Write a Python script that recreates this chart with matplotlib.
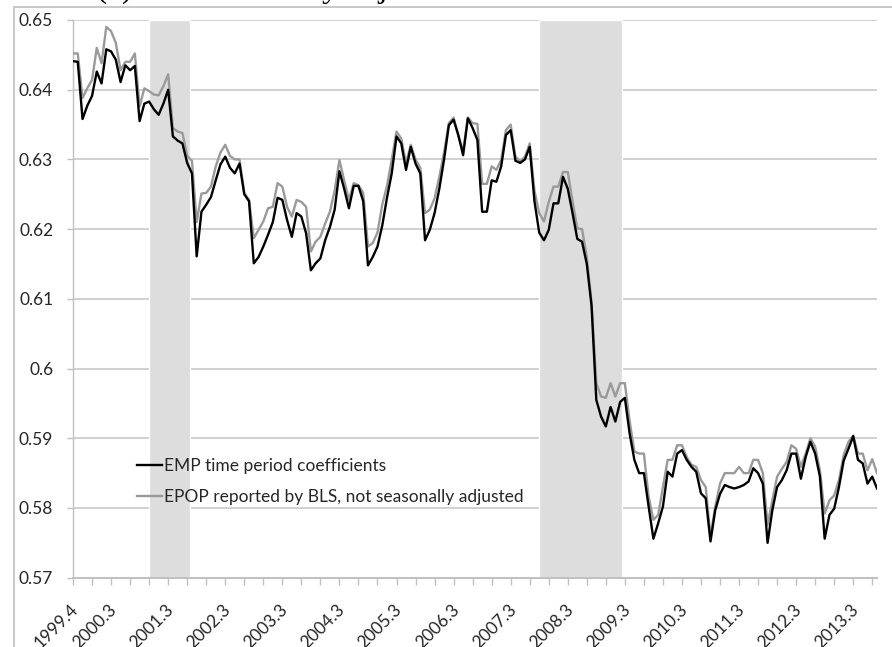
import numpy as np
import pandas as pd
import matplotlib
matplotlib.use("Agg")
import matplotlib.pyplot as plt
from matplotlib.lines import Line2D
from matplotlib.transforms import ScaledTranslation

# ---------------- data ----------------
months = pd.period_range("1999-11", "2013-12", freq="M")

emp = [
    0.6441, 0.6440,
    0.6358, 0.6377, 0.6391, 0.6426, 0.6409, 0.6458, 0.6455, 0.6443, 0.6411, 0.6435, 0.6428, 0.6434,
    0.6355, 0.6380, 0.6383, 0.6372, 0.6364, 0.6380, 0.6400, 0.6333, 0.6327, 0.6323, 0.6295, 0.6280,
    0.6161, 0.6225, 0.6235, 0.6246, 0.6270, 0.6293, 0.6304, 0.6288, 0.6280, 0.6294, 0.6250, 0.6240,
    0.6151, 0.6160, 0.6175, 0.6192, 0.6210, 0.6245, 0.6242, 0.6213, 0.6189, 0.6223, 0.6218, 0.6194,
    0.6141, 0.6151, 0.6158, 0.6184, 0.6203, 0.6228, 0.6283, 0.6258, 0.6230, 0.6262, 0.6262, 0.6240,
    0.6148, 0.6160, 0.6175, 0.6205, 0.6245, 0.6280, 0.6333, 0.6323, 0.6285, 0.6318, 0.6294, 0.6280,
    0.6184, 0.6199, 0.6223, 0.6258, 0.6300, 0.6349, 0.6357, 0.6335, 0.6306, 0.6359, 0.6345, 0.6328,
    0.6225, 0.6225, 0.6270, 0.6268, 0.6290, 0.6335, 0.6342, 0.6298, 0.6295, 0.6300, 0.6318, 0.6240,
    0.6195, 0.6184, 0.6199, 0.6237, 0.6237, 0.6275, 0.6258, 0.6223, 0.6186, 0.6182, 0.6150, 0.6090,
    0.5955, 0.5931, 0.5917, 0.5945, 0.5924, 0.5952, 0.5958, 0.5907, 0.5869, 0.5850, 0.5850, 0.5802,
    0.5756, 0.5778, 0.5802, 0.5852, 0.5845, 0.5878, 0.5883, 0.5869, 0.5859, 0.5852, 0.5821, 0.5814,
    0.5752, 0.5797, 0.5820, 0.5833, 0.5830, 0.5828, 0.5830, 0.5833, 0.5838, 0.5857, 0.5850, 0.5835,
    0.5750, 0.5797, 0.5830, 0.5840, 0.5854, 0.5878, 0.5878, 0.5842, 0.5873, 0.5895, 0.5878, 0.5845,
    0.5756, 0.5790, 0.5799, 0.5830, 0.5868, 0.5885, 0.5903, 0.5869, 0.5864, 0.5835, 0.5845, 0.5828,
]

epop = [
    0.6452, 0.6452,
    0.6388, 0.6402, 0.6414, 0.6460, 0.6438, 0.6490, 0.6484, 0.6467, 0.6428, 0.6440, 0.6440, 0.6452,
    0.6376, 0.6402, 0.6398, 0.6393, 0.6392, 0.6405, 0.6422, 0.6345, 0.6340, 0.6338, 0.6305, 0.6298,
    0.6210, 0.6251, 0.6252, 0.6261, 0.6290, 0.6310, 0.6321, 0.6305, 0.6300, 0.6300, 0.6252, 0.6242,
    0.6187, 0.6199, 0.6211, 0.6230, 0.6232, 0.6266, 0.6261, 0.6232, 0.6218, 0.6242, 0.6239, 0.6232,
    0.6168, 0.6182, 0.6189, 0.6208, 0.6225, 0.6255, 0.6299, 0.6270, 0.6242, 0.6266, 0.6263, 0.6252,
    0.6175, 0.6180, 0.6195, 0.6235, 0.6262, 0.6300, 0.6340, 0.6330, 0.6294, 0.6321, 0.6300, 0.6288,
    0.6223, 0.6228, 0.6244, 0.6275, 0.6310, 0.6352, 0.6360, 0.6333, 0.6312, 0.6360, 0.6352, 0.6351,
    0.6265, 0.6265, 0.6290, 0.6285, 0.6299, 0.6342, 0.6350, 0.6304, 0.6297, 0.6304, 0.6323, 0.6255,
    0.6223, 0.6211, 0.6239, 0.6261, 0.6261, 0.6282, 0.6282, 0.6240, 0.6201, 0.6200, 0.6160, 0.6095,
    0.5979, 0.5960, 0.5958, 0.5979, 0.5960, 0.5979, 0.5979, 0.5925, 0.5881, 0.5878, 0.5878, 0.5816,
    0.5783, 0.5790, 0.5830, 0.5869, 0.5869, 0.5890, 0.5890, 0.5873, 0.5862, 0.5859, 0.5840, 0.5830,
    0.5759, 0.5802, 0.5835, 0.5850, 0.5850, 0.5850, 0.5859, 0.5850, 0.5850, 0.5869, 0.5869, 0.5850,
    0.5776, 0.5811, 0.5845, 0.5856, 0.5866, 0.5890, 0.5885, 0.5859, 0.5878, 0.5900, 0.5888, 0.5854,
    0.5792, 0.5811, 0.5818, 0.5840, 0.5876, 0.5895, 0.5904, 0.5878, 0.5878, 0.5854, 0.5870, 0.5850,
]

series_names = ["EMP time period coefficients",
                "EPOP reported by BLS, not seasonally adjusted"]
recessions = [("2001-03", "2001-11"), ("2008-01", "2009-06")]
yticks = [0.57, 0.58, 0.59, 0.60, 0.61, 0.62, 0.63, 0.64, 0.65]
ytick_labels = ["0.57", "0.58", "0.59", "0.6", "0.61", "0.62", "0.63", "0.64", "0.65"]
title_text = "(a) Not seasonally adjusted"

# ---------------- figure ----------------
plt.rcParams["font.family"] = ["Lato", "DejaVu Sans"]
W, H = 892, 647
fig = plt.figure(figsize=(W / 100, H / 100), dpi=100)
fig.patch.set_facecolor("white")

L, R, T, B = 73, 877, 20, 577.7
ax = fig.add_axes([L / W, 1 - B / H, (R - L) / W, (B - T) / H])

x = np.arange(len(months))
pos = {str(p): i for i, p in enumerate(months)}

ax.set_xlim(0, len(months) - 1)
ax.set_ylim(0.57, 0.65)

# gridlines
ax.set_yticks(yticks)
ax.set_yticklabels(ytick_labels)
ax.yaxis.grid(True, color="#d0d0d0", lw=1.4, zorder=0)
ax.set_axisbelow(True)

# recession shading (month columns: start month to end of last month)
for s, e in recessions:
    ax.axvspan(pos[s], pos[e] + 0.5, facecolor="#dddddd", edgecolor="white",
               lw=1.0, zorder=1)

# series
l1, = ax.plot(x, emp, color="black", lw=1.7, zorder=4, label=series_names[0],
              solid_joinstyle="round")
l2, = ax.plot(x, epop, color="#9a9a9a", lw=1.7, zorder=3, label=series_names[1],
              solid_joinstyle="round")

# spines
for sp in ["top", "right"]:
    ax.spines[sp].set_visible(False)
ax.spines["left"].set_color("#c0c0c0")
ax.spines["left"].set_linewidth(1.0)
ax.spines["bottom"].set_color("#c0c0c0")
ax.spines["bottom"].set_linewidth(1.4)
ax.spines["bottom"].set_zorder(5)

# y ticks
ax.tick_params(axis="y", direction="out", length=4.3, width=1.0, color="#c0c0c0",
               pad=10, labelsize=12.5, labelcolor="#262626")

# x ticks: every 4 months, labels in July (plus first)
tick_pos = list(range(0, len(months), 4))
tick_lab = []
for i in tick_pos:
    p = months[i]
    tick_lab.append(f"{p.year}.{p.quarter}" if (i == 0 or p.month == 7) else "")
ax.set_xticks(tick_pos)
ax.set_xticklabels(tick_lab, rotation=45, ha="right", va="center",
                   rotation_mode="anchor")
ax.tick_params(axis="x", direction="out", length=5, width=1.0, color="#c0c0c0",
               pad=16, labelsize=12.5, labelcolor="#262626")
off = ScaledTranslation(3 / 100, 0, fig.dpi_scale_trans)
for lab in ax.get_xticklabels():
    lab.set_transform(lab.get_transform() + off)

# legend
leg = ax.legend(handles=[l1, l2], loc="upper left",
                bbox_to_anchor=(137 / W, 1 - 458 / H), bbox_transform=fig.transFigure,
                frameon=False, fontsize=12.5, handlelength=1.45, handletextpad=0.12,
                labelspacing=0.84, borderpad=0, borderaxespad=0)
for t in leg.get_texts():
    t.set_color("#262626")

# chart-area border (cropped at right/bottom)
bc = "#c8c8c8"
fig.add_artist(Line2D([14 / W, 14 / W], [0, 1 - 7 / H], transform=fig.transFigure,
                      color=bc, lw=1.4))
fig.add_artist(Line2D([14 / W, 1], [1 - 7 / H, 1 - 7 / H], transform=fig.transFigure,
                      color=bc, lw=1.4))

# cropped title (only the descenders show)
fig.text(96 / W, 1 + 3 / H, title_text, family=["Liberation Serif", "DejaVu Serif"],
         fontsize=24, va="baseline", ha="left", color="black")

fig.savefig("out.png", dpi=100)
